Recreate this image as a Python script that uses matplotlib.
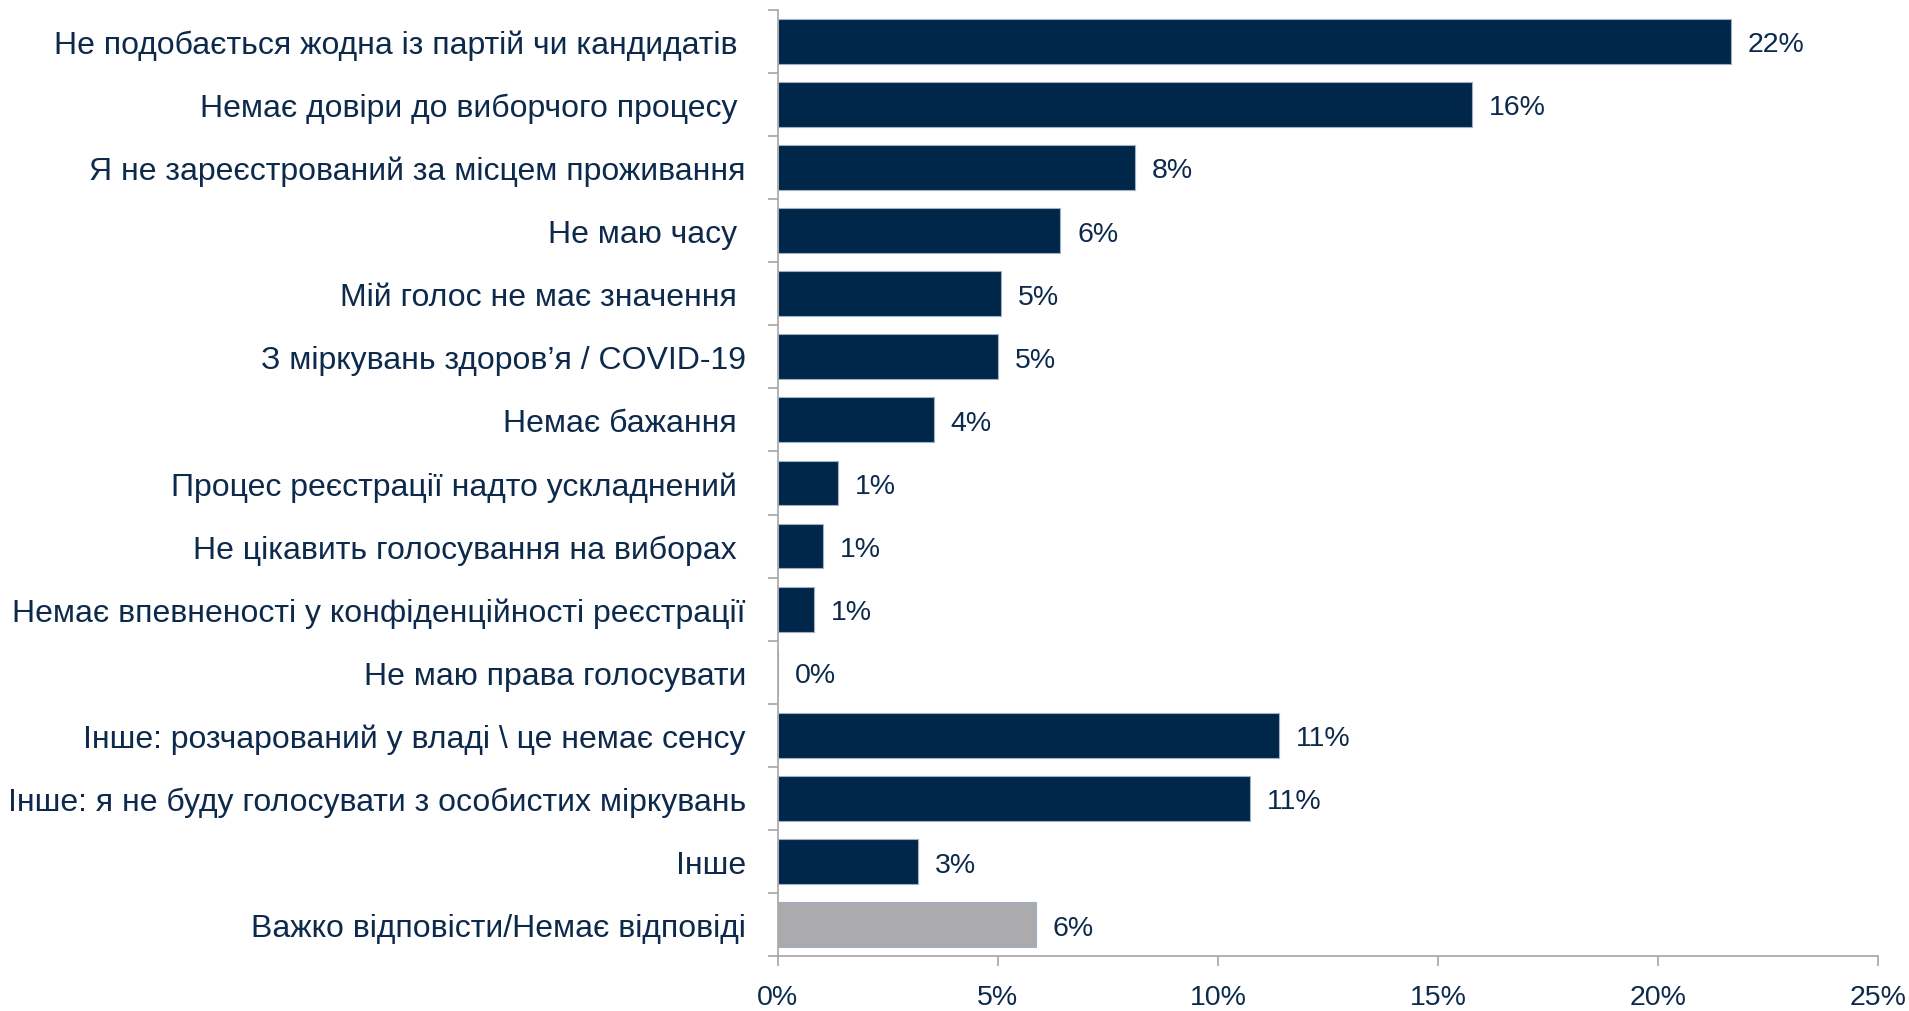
import matplotlib
matplotlib.use("Agg")
import matplotlib.pyplot as plt
from matplotlib.ticker import FuncFormatter

# --- data ---
categories = [
    "Не подобається жодна із партій чи кандидатів ",
    "Немає довіри до виборчого процесу ",
    "Я не зареєстрований за місцем проживання",
    "Не маю часу ",
    "Мій голос не має значення ",
    "З міркувань здоров’я / COVID-19",
    "Немає бажання ",
    "Процес реєстрації надто ускладнений ",
    "Не цікавить голосування на виборах ",
    "Немає впевненості у конфіденційності реєстрації",
    "Не маю права голосувати",
    "Інше: розчарований у владі \\ це немає сенсу",
    "Інше: я не буду голосувати з особистих міркувань",
    "Інше",
    "Важко відповісти/Немає відповіді",
]
values = [21.66, 15.78, 8.11, 6.42, 5.07, 5.01, 3.54, 1.36, 1.02, 0.83, 0.0,
          11.38, 10.72, 3.18, 5.86]
value_labels = ["22%", "16%", "8%", "6%", "5%", "5%", "4%", "1%", "1%", "1%",
                "0%", "11%", "11%", "3%", "6%"]
xticks = [0, 5, 10, 15, 20, 25]

navy = "#002649"
grey = "#ababad"
text_col = "#0d2a4c"
axis_col = "#a6a6a6"

plt.rcParams['font.family'] = ['Liberation Sans', 'DejaVu Sans']

fig = plt.figure(figsize=(19.09, 10.12), dpi=100)
ax = fig.add_axes([0.4075, 0.0541, 0.5763, 0.9353])

colors = [navy] * (len(values) - 1) + [grey]
ypos = list(range(len(values)))
ax.barh(ypos, values, height=0.71, color=colors, edgecolor="#9fb0c4", linewidth=0.8)

for y, v, lab in zip(ypos, values, value_labels):
    ax.text(v + 0.38, y, lab, va="center_baseline", ha="left", fontsize=20.5, color=text_col)

ax.set_xlim(0, 25)
ax.set_ylim(len(values) - 0.5, -0.5)
ax.set_xticks(xticks)
ax.xaxis.set_major_formatter(FuncFormatter(lambda v, p: f"{v:.0f}%"))

# category labels centred, ticks on boundaries
ax.set_yticks(ypos)
ax.set_yticklabels(categories)
ax.set_yticks([y - 0.5 for y in ypos] + [len(values) - 0.5], minor=True)
ax.tick_params(axis="y", which="major", length=0, pad=23, labelsize=23, labelcolor=text_col)
ax.tick_params(axis="y", which="minor", length=7, width=1.2, color=axis_col)
ax.tick_params(axis="x", length=7, width=1.2, color=axis_col, pad=13,
               labelsize=20.5, labelcolor=text_col)

for s in ["top", "right"]:
    ax.spines[s].set_visible(False)
for s in ["left", "bottom"]:
    ax.spines[s].set_color(axis_col)
    ax.spines[s].set_linewidth(1.2)

fig.savefig("out.png", dpi=100)
